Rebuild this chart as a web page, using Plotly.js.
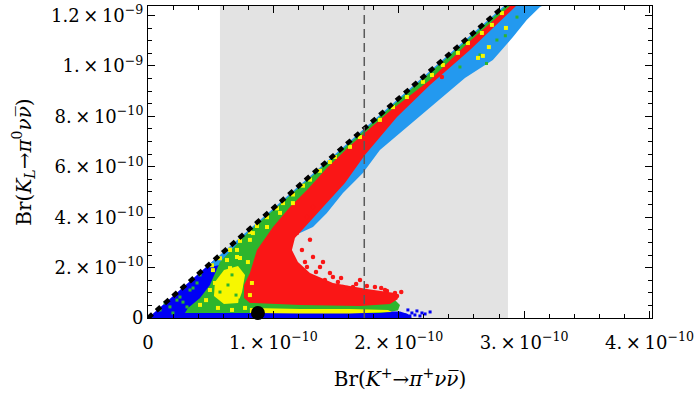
<!DOCTYPE html>
<html>
<head>
<meta charset="utf-8">
<script src="https://cdn.plot.ly/plotly-3.0.1.min.js"></script>
<style>body{margin:0;background:#fff}</style>
</head>
<body>
<div id="myDiv" style="width:700px;height:396px"></div>
<script>
// all values in units of 1e-10
var xTicks = [0, 1, 2, 3, 4];
var xTickText = ['0', '1.\u2009×\u200910<sup>−10</sup>', '2.\u2009×\u200910<sup>−10</sup>', '3.\u2009×\u200910<sup>−10</sup>', '4.\u2009×\u200910<sup>−10</sup>'];
var yTicks = [0, 2, 4, 6, 8, 10, 12];
var yTickText = ['0', '2.\u2009×\u200910<sup>−10</sup>', '4.\u2009×\u200910<sup>−10</sup>', '6.\u2009×\u200910<sup>−10</sup>',
                 '8.\u2009×\u200910<sup>−10</sup>', '1.\u2009×\u200910<sup>−9</sup>', '1.2\u2009×\u200910<sup>−9</sup>'];

// experimental band and central value
var bandX = [0.574, 2.871];
var centralX = [1.725];

// bound line
var boundX = [0, 2.9];
var boundY = [0, 12.64];

// SM point
var smX = [0.877];
var smY = [0.20];

// blue region
var blueX = [0, 0.534, 0.694, 0.774, 1.212, 2.010, 2.073, 2.105];
var blueY = [0, 2.33, 2.10, 1.11, 0.28, 0.26, 0.16, 0];
var blueDotX = [2.049, 2.105, 2.129, 2.185, 2.145, 2.089, 2.169, 2.073, 0.694, 0.734, 0.797, 0.718, 0.829, 2.21, 2.25];
var blueDotY = [0.12, 0.20, 0.12, 0.20, 0.28, 0.08, 0.08, 0.32, 1.90, 1.51, 1.11, 2.10, 0.71, 0.16, 0.24];

// light blue region
var lblueX = [0.455, 2.839, 3.142, 3.126, 3.022, 2.911, 2.751, 2.528, 1.850, 1.714, 1.555, 1.427, 1.316, 1.212, 0.893, 0.574];
var lblueY = [1.98, 12.38, 12.38, 12.34, 11.83, 11.15, 10.24, 9.52, 6.67, 5.75, 4.96, 4.17, 3.61, 3.37, 2.90, 2.10];

// green region
var greenX = [2.855, 2.010, 1.212, 0.813, 0.574, 0.494, 0.415, 0.319, 0.295, 0.893, 1.451, 1.850, 1.994, 2.010, 1.970, 1.212, 0.973, 1.053, 1.372, 2.010, 2.903];
var greenY = [12.38, 8.68, 5.20, 3.47, 2.22, 1.31, 0.79, 0.40, 0.20, 0.20, 0.20, 0.20, 0.30, 0.52, 0.71, 0.71, 1.90, 3.29, 4.88, 8.25, 12.38];
var greenDotX = [0.096, 0.175, 0.255, 0.311, 0.335, 0.199, 0.391, 0.279, 0.136, 0.415, 0.231, 0.359,
                 2.943, 2.783, 2.648, 2.488, 2.85, 2.70,
                 0.638, 0.702, 0.574, 0.670, 0.734];
var greenDotY = [0.32, 0.44, 0.83, 0.44, 1.11, 0.20, 1.39, 0.63, 0.60, 1.71, 0.71, 1.19,
                 11.94, 11.03, 10.44, 9.96, 11.2, 10.1,
                 1.31, 0.91, 1.03, 1.71, 0.71];

// yellow regions
var yellowX = [0.534, 0.606, 0.718, 0.774, 0.750, 0.718, 0.606, 0.526];
var yellowY = [1.43, 1.90, 2.06, 1.71, 1.03, 0.60, 0.56, 0.87];
var yellowStripX = [0.813, 1.212, 1.611, 1.914, 1.946, 1.611, 1.212, 0.813];
var yellowStripY = [0.40, 0.36, 0.36, 0.32, 0.24, 0.18, 0.18, 0.20];
var yellowDotX = [0.510, 0.574, 0.654, 0.734, 0.813, 0.869, 0.949, 1.029, 1.077, 1.156, 1.236, 1.292, 1.372, 1.451,
                  1.491, 1.611, 1.691, 1.850, 1.954, 2.065, 2.193, 2.265, 2.352, 2.472, 2.552, 2.663, 2.743, 2.823,
                  0.710, 0.630, 0.813, 0.949, 1.053, 1.156, 0.710, 0.654, 0.837,
                  0.463, 0.494, 0.534, 0.614, 0.654, 0.734, 0.622, 0.797, 0.829, 0.813, 0.558, 0.670, 0.774, 0.415, 0.518,
                  2.855, 2.719, 2.632, 2.671];
var yellowDotY = [2.09, 2.37, 2.71, 3.06, 3.41, 3.65, 4.00, 4.35, 4.56, 4.90, 5.25, 5.49, 5.84, 6.19,
                  6.39, 6.79, 7.18, 7.86, 8.37, 8.77, 9.37, 9.64, 10.04, 10.52, 10.91, 11.31, 11.63, 12.10,
                  2.70, 2.30, 3.10, 3.61, 4.17, 4.56, 2.42, 2.70, 3.37,
                  0.71, 1.11, 1.39, 1.59, 1.98, 2.38, 0.91, 2.22, 1.39, 0.91, 0.40, 0.32, 0.40, 0.52, 1.90,
                  11.51, 10.75, 10.32, 10.40];

// red region
var redX = [2.887, 2.568, 2.249, 1.930, 1.611, 1.427, 1.268, 1.132, 0.997, 0.869, 0.813, 0.766, 0.766, 0.813,
            1.212, 1.691, 1.930, 1.994, 1.970, 1.746, 1.475, 1.292, 1.196, 1.148, 1.172, 1.292, 1.411, 1.571,
            1.730, 1.986, 2.249, 2.568, 2.935];
var redY = [12.38, 10.99, 9.44, 8.21, 6.83, 5.95, 5.08, 4.40, 3.61, 2.70, 1.79, 1.31, 0.79, 0.60,
            0.52, 0.48, 0.56, 0.75, 0.99, 1.15, 1.39, 1.79, 2.22, 2.70, 3.17, 3.81, 4.48, 5.36,
            6.47, 7.98, 9.25, 10.63, 12.38];
var redDotX = [1.292, 1.228, 1.316, 1.372, 1.451, 1.515, 1.268, 1.411, 1.587, 1.396, 1.555, 1.635, 1.746,
               1.906, 1.986, 1.691, 1.188, 1.475, 1.252, 1.890, 1.970, 1.268, 1.316, 2.344,
               1.81, 1.86, 2.02, 1.66, 1.54, 1.34];
var redDotY = [3.10, 2.70, 2.42, 2.02, 1.79, 1.43, 2.02, 1.51, 1.19, 2.22, 1.23, 1.23, 1.27,
               1.07, 0.87, 1.51, 3.37, 1.63, 2.22, 1.11, 0.99, 4.01, 4.40, 9.56,
               1.23, 1.19, 1.03, 1.35, 1.59, 1.83];

function region(xs, ys, color) {
    return {x: xs, y: ys, type: 'scatter', mode: 'lines', fill: 'toself',
        fillcolor: color, line: {width: 0, color: color}, hoverinfo: 'skip'};
}
function dots(xs, ys, color, size, symbol) {
    return {x: xs, y: ys, type: 'scatter', mode: 'markers',
        marker: {color: color, size: size, symbol: symbol, line: {width: 0}}, hoverinfo: 'skip'};
}

var cBlue = '#0000f5', cLBlue = '#2399ef', cGreen = '#2db52d', cYellow = '#f7f700', cRed = '#fa1616';

var data = [
    region(blueX, blueY, cBlue),
    dots(blueDotX, blueDotY, cBlue, 3, 'square'),
    region(lblueX, lblueY, cLBlue),
    region(greenX, greenY, cGreen),
    region(yellowX, yellowY, cYellow),
    region(yellowStripX, yellowStripY, cYellow),
    dots(greenDotX, greenDotY, cGreen, 3, 'square'),
    region(redX, redY, cRed),
    dots(redDotX, redDotY, cRed, 4.5, 'circle'),
    dots(yellowDotX, yellowDotY, cYellow, 4, 'square'),
    {x: boundX, y: boundY, type: 'scatter', mode: 'lines',
        line: {color: 'black', width: 4.5, dash: '6px,5px'}, hoverinfo: 'skip'},
    {x: smX, y: smY, type: 'scatter', mode: 'markers',
        marker: {color: 'black', size: 14}, cliponaxis: false, hoverinfo: 'skip'}
];

var fontFam = 'DejaVu Serif, serif';

var layout = {
    width: 700,
    height: 396,
    margin: {l: 148, r: 48, t: 6, b: 78},
    showlegend: false,
    paper_bgcolor: 'white',
    plot_bgcolor: 'white',
    font: {family: fontFam, size: 18, color: 'black'},
    xaxis: {
        range: [0, 4.02],
        tickmode: 'array', tickvals: xTicks, ticktext: xTickText,
        ticks: 'inside', ticklen: 7, tickcolor: 'black', ticklabelstandoff: 8,
        minor: {tickmode: 'linear', tick0: 0, dtick: 0.2, ticks: 'inside', ticklen: 4, tickcolor: 'black'},
        showline: true, linecolor: 'black', linewidth: 1, mirror: 'ticks',
        showgrid: false, zeroline: false,
        tickfont: {family: fontFam, size: 18},
        title: {text: 'Br(<i>K</i><sup>+</sup>→<i>π</i><sup>+</sup><i>ν</i><i>ν\u0305</i>)',
            font: {family: fontFam, size: 20}, standoff: 20}
    },
    yaxis: {
        range: [0, 12.38],
        tickmode: 'array', tickvals: yTicks, ticktext: yTickText,
        ticks: 'inside', ticklen: 7, tickcolor: 'black',
        minor: {tickmode: 'linear', tick0: 0, dtick: 0.5, ticks: 'inside', ticklen: 4, tickcolor: 'black'},
        showline: true, linecolor: 'black', linewidth: 1, mirror: 'ticks',
        showgrid: false, zeroline: false,
        tickfont: {family: fontFam, size: 18},
        title: {text: 'Br(<i>K</i><sub><i>L</i></sub>→<i>π</i><sup>0</sup><i>ν</i><i>ν\u0305</i>)',
            font: {family: fontFam, size: 20}, standoff: 14}
    },
    shapes: [
        {type: 'rect', xref: 'x', yref: 'paper', x0: bandX[0], x1: bandX[1], y0: 0, y1: 1,
            fillcolor: '#e3e3e3', line: {width: 0}, layer: 'below'},
        {type: 'line', xref: 'x', yref: 'paper', x0: centralX[0], x1: centralX[0], y0: 0, y1: 1,
            line: {color: '#5a5a5a', width: 1.5, dash: '9px,5px'}, layer: 'above'}
    ]
};

Plotly.newPlot('myDiv', data, layout, {staticPlot: true});
</script>
</body>
</html>
